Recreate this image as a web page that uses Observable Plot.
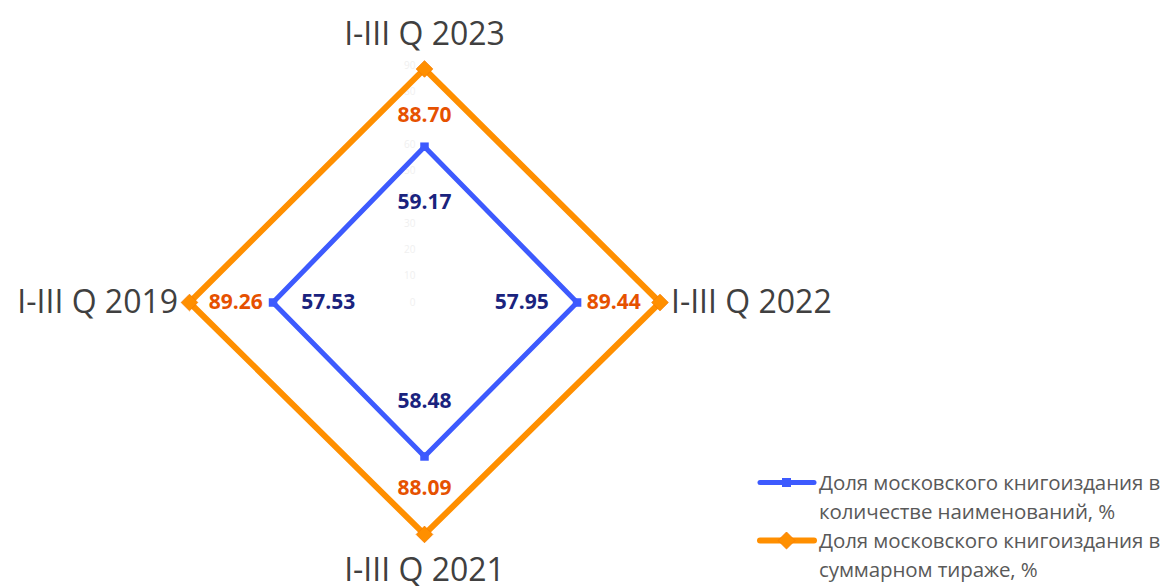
<!DOCTYPE html>
<html>
<head>
<meta charset="utf-8">
<script src="https://cdn.jsdelivr.net/npm/d3@7"></script>
<script src="https://cdn.jsdelivr.net/npm/@observablehq/plot@0.6"></script>
<style>
  html, body { margin: 0; padding: 0; background: #fff; }
  #wrap { position: relative; width: 1173px; height: 586px; overflow: hidden; }
  #legend { position: absolute; left: 756px; top: 468px; font-family: "Open Sans", sans-serif; font-size: 20.5px; letter-spacing: -0.1px; color: #595959; line-height: 29px; }
  .item { display: flex; align-items: flex-start; }
  .item svg { flex: none; margin-top: 0px; }
  .item span { margin-left: 1px; white-space: nowrap; }
</style>
</head>
<body>
<div id="wrap">
  <div id="chart"></div>
  <div id="legend"></div>
</div>
<script>
// ---- data ----
const categories = ["I-III Q 2023", "I-III Q 2022", "I-III Q 2021", "I-III Q 2019"];
const titlesShare = [59.17, 57.95, 58.48, 57.53];
const printShare = [88.70, 89.44, 88.09, 89.26];
const seriesNames = [
  "Доля московского книгоиздания в количестве наименований, %",
  "Доля московского книгоиздания в суммарном тираже, %"
];
const legendLines = [
  ["Доля московского книгоиздания в", "количестве наименований, %"],
  ["Доля московского книгоиздания в", "суммарном тираже, %"]
];
const radialTicks = [0, 10, 20, 30, 40, 50, 60, 70, 80, 90];

// ---- layout ----
const W = 1173, H = 586;
const cx = 424, cy = 302;      // pixel center of the radar
const k = 2.633;                // pixels per percentage point
const colors = ["#3D5AFE", "#FF8F00"];
const labelColors = ["#1A237E", "#E65100"];
const labelInset = [21, 17.6];  // label radius inset, in value units

const angleOf = i => (i / categories.length) * 2 * Math.PI; // clockwise from top
const series = [titlesShare, printShare];
const points = [];
series.forEach((vals, s) => vals.forEach((v, i) => {
  const a = angleOf(i);
  points.push({
    series: seriesNames[s], s, cat: categories[i], value: v,
    x: v * Math.sin(a), y: v * Math.cos(a),
    lx: (v - labelInset[s]) * Math.sin(a), ly: (v - labelInset[s]) * Math.cos(a),
    label: v.toFixed(2)
  });
}));

const catLabels = categories.map((c, i) => {
  const a = angleOf(i);
  const r = 93.6 + 8.2 * Math.abs(Math.cos(a));
  const sx = Math.round(Math.sin(a) * 1000) / 1000;
  return { cat: c, x: r * Math.sin(a), y: r * Math.cos(a), side: sx > 0 ? "right" : sx < 0 ? "left" : "mid" };
});

const font = "'Open Sans', sans-serif";

const chart = Plot.plot({
  width: W, height: H,
  margin: 0,
  style: { fontFamily: font, background: "transparent", overflow: "visible" },
  x: { domain: [-cx / k, (W - cx) / k], range: [0, W], axis: null },
  y: { domain: [-(H - cy) / k, cy / k], range: [H, 0], axis: null },
  marks: [
    // faint radial tick labels on the vertical axis
    Plot.text(radialTicks, { x: 0, y: d => d, text: d => String(d), textAnchor: "end", dx: -9, fill: "#f0f0f0", fontSize: 10 }),
    // series polygons
    Plot.line(points.filter(d => d.s === 1), { x: "x", y: "y", curve: "linear-closed", stroke: colors[1], strokeWidth: 6, strokeLinejoin: "miter" }),
    Plot.line(points.filter(d => d.s === 0), { x: "x", y: "y", curve: "linear-closed", stroke: colors[0], strokeWidth: 5, strokeLinejoin: "miter" }),
    // markers
    Plot.dot(points.filter(d => d.s === 1), { x: "x", y: "y", symbol: "diamond2", r: 7.5, fill: colors[1], stroke: "#F57C00", strokeWidth: 0.8 }),
    Plot.dot(points.filter(d => d.s === 0), { x: "x", y: "y", symbol: "square", r: 4.8, fill: colors[0] }),
    // data labels
    Plot.text(points, { x: "lx", y: "ly", text: "label", fill: d => labelColors[d.s], fontSize: 21, fontWeight: "bold", textAnchor: "middle" }),
    // category labels
    Plot.text(catLabels.filter(d => d.side === "mid"), { x: "x", y: "y", text: "cat", fill: "#404040", fontSize: 32, textAnchor: "middle" }),
    Plot.text(catLabels.filter(d => d.side === "right"), { x: "x", y: "y", text: "cat", fill: "#404040", fontSize: 32, textAnchor: "start" }),
    Plot.text(catLabels.filter(d => d.side === "left"), { x: "x", y: "y", text: "cat", fill: "#404040", fontSize: 32, textAnchor: "end" })
  ]
});
document.getElementById("chart").appendChild(chart);

// legend
const legend = document.getElementById("legend");
legendLines.forEach((lines, s) => {
  const item = document.createElement("div");
  item.className = "item";
  const marker = s === 0
    ? `<rect x="26" y="10" width="9" height="9" fill="${colors[0]}"/>`
    : `<rect x="24.5" y="8.5" width="12" height="12" fill="${colors[1]}" stroke="#F57C00" stroke-width="0.8" transform="rotate(45 30.5 14.5)"/>`;
  item.innerHTML = `<svg width="62" height="29"><line x1="4" y1="14.5" x2="58" y2="14.5" stroke="${colors[s]}" stroke-width="${s === 0 ? 5 : 6}" stroke-linecap="round"/>${marker}</svg><span>${lines.join("<br>")}</span>`;
  legend.appendChild(item);
});
</script>
</body>
</html>
